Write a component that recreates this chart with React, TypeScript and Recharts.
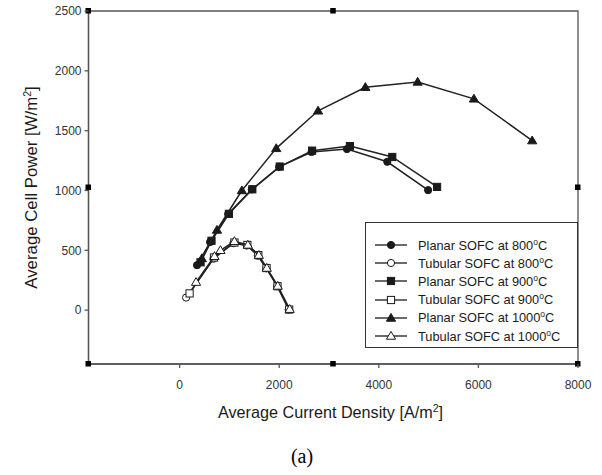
import React from "react";
import {
  ScatterChart,
  Scatter,
  XAxis,
  YAxis,
  Legend,
  ReferenceDot,
  ReferenceArea,
} from "recharts";

// ---- data ----
const planar800X = [350, 612, 975, 1450, 2000, 2650, 3360, 4170, 4990];
const planar800Y = [376, 569, 803, 1009, 1198, 1322, 1346, 1240, 1003];

const tubular800X = [130, 680, 1080, 1350, 1570, 1740, 1960, 2190];
const tubular800Y = [105, 430, 560, 540, 455, 350, 200, 5];

const planar900X = [420, 640, 990, 1460, 2010, 2660, 3420, 4270, 5170];
const planar900Y = [400, 580, 805, 1010, 1200, 1333, 1371, 1280, 1030];

const tubular900X = [200, 690, 1100, 1360, 1580, 1745, 1965, 2200];
const tubular900Y = [140, 440, 565, 545, 460, 352, 200, 5];

const planar1000X = [446, 750, 1250, 1940, 2780, 3730, 4780, 5910, 7080];
const planar1000Y = [432, 670, 1000, 1352, 1666, 1863, 1907, 1766, 1417];

const tubular1000X = [330, 700, 820, 1100, 1370, 1590, 1750, 1970, 2210];
const tubular1000Y = [234, 450, 500, 575, 545, 460, 352, 202, 8];

const xTicks = [0, 2000, 4000, 6000, 8000];
const yTicks = [0, 500, 1000, 1500, 2000, 2500];
const xDomain: [number, number] = [-1830, 8000];
const yDomain: [number, number] = [-450, 2500];

const seriesNames = [
  ["Planar SOFC at 800", "C"],
  ["Tubular SOFC at 800", "C"],
  ["Planar SOFC at 900", "C"],
  ["Tubular SOFC at 900", "C"],
  ["Planar SOFC at 1000", "C"],
  ["Tubular SOFC at 1000", "C"],
];

const zip = (xs: number[], ys: number[]) => xs.map((x, i) => ({ x, y: ys[i] }));

type Kind = "circle" | "square" | "triangle";
const series: { data: { x: number; y: number }[]; kind: Kind; filled: boolean }[] = [
  { data: zip(planar800X, planar800Y), kind: "circle", filled: true },
  { data: zip(tubular800X, tubular800Y), kind: "circle", filled: false },
  { data: zip(planar900X, planar900Y), kind: "square", filled: true },
  { data: zip(tubular900X, tubular900Y), kind: "square", filled: false },
  { data: zip(planar1000X, planar1000Y), kind: "triangle", filled: true },
  { data: zip(tubular1000X, tubular1000Y), kind: "triangle", filled: false },
];

const FONT = "'Liberation Sans', Arial, sans-serif";
const INK = "#1a1a1a";
const AXC = "#555";
const AX = { stroke: AXC, strokeWidth: 1.3 };
const TICK_SIZE = 4;

function Marker({ cx, cy, kind, filled }: { cx: number; cy: number; kind: Kind; filled: boolean }) {
  if (cx == null || cy == null || isNaN(cx) || isNaN(cy)) return null;
  const fill = filled ? INK : "#fff";
  const sw = 1;
  if (kind === "circle") return <circle cx={cx} cy={cy} r={3.6} fill={fill} stroke={INK} strokeWidth={sw} />;
  if (kind === "square")
    return <rect x={cx - 3.6} y={cy - 3.6} width={7.2} height={7.2} fill={fill} stroke={INK} strokeWidth={sw} />;
  const s = 4.6;
  return (
    <polygon
      points={`${cx},${cy - s} ${cx - s},${cy + s * 0.7} ${cx + s},${cy + s * 0.7}`}
      fill={fill}
      stroke={INK}
      strokeWidth={sw}
    />
  );
}

const X_TICK_MARGIN = 12;
function XTick(p: any) {
  const axisY = p.y - TICK_SIZE - X_TICK_MARGIN;
  return (
    <g>
      <line x1={p.x} x2={p.x} y1={axisY} y2={axisY + TICK_SIZE} stroke={AXC} strokeWidth={1.3} />
      <text x={p.x} y={p.y} dy="0.71em" textAnchor="middle" fontSize={12} fill="#333" fontFamily={FONT}>
        {p.payload.value}
      </text>
    </g>
  );
}

const Y_TICK_MARGIN = 3;
function YTick(p: any) {
  const axisX = p.x + TICK_SIZE + Y_TICK_MARGIN;
  return (
    <g>
      <line x1={axisX - TICK_SIZE} x2={axisX} y1={p.y} y2={p.y} stroke={AXC} strokeWidth={1.3} />
      <text x={p.x} y={p.y} dy="0.355em" textAnchor="end" fontSize={12} fill="#333" fontFamily={FONT}>
        {p.payload.value}
      </text>
    </g>
  );
}

function LegendBox() {
  return (
    <div
      style={{
        width: 211,
        height: 111,
        border: "1px solid #333",
        background: "#fff",
        boxSizing: "content-box",
        fontFamily: FONT,
        fontSize: 12.8,
        color: INK,
        paddingTop: 13,
      }}
    >
      {series.map((s, i) => (
        <div key={i} style={{ display: "flex", alignItems: "center", height: 18.2 }}>
          <svg width={52} height={16} style={{ display: "block" }}>
            <line x1={9} x2={41} y1={8} y2={8} stroke={INK} strokeWidth={1.3} />
            <Marker cx={25} cy={8} kind={s.kind} filled={s.filled} />
          </svg>
          <span style={{ whiteSpace: "nowrap" }}>
            {seriesNames[i][0]}
            <sup style={{ fontSize: 8.5, verticalAlign: "5px", lineHeight: 0 }}>o</sup>
            {seriesNames[i][1]}
          </span>
        </div>
      ))}
    </div>
  );
}

const Handle = (p: any) => (
  <rect x={p.cx - 3} y={p.cy - 3} width={5.5} height={5.5} fill="#000" />
);

export default function App() {
  const xMid = (xDomain[0] + xDomain[1]) / 2;
  const yMid = (yDomain[0] + yDomain[1]) / 2;
  return (
    <div style={{ position: "absolute", left: 0, top: 0, width: 602, height: 475, background: "#fff" }}>
      <ScatterChart
        width={602}
        height={475}
        margin={{ top: 11, right: 24, bottom: 51, left: 28.5 }}
        style={{ fontFamily: FONT }}
      >
        <XAxis
          type="number"
          dataKey="x"
          domain={xDomain}
          ticks={xTicks}
          allowDataOverflow
          height={60}
          tickSize={TICK_SIZE}
          tickMargin={X_TICK_MARGIN}
          axisLine={AX}
          tickLine={false}
          tick={<XTick />}
          label={{
            content: () => (
              <g>
                <text x={330.5} y={418} textAnchor="middle" fontFamily={FONT} fontSize={16.2} fill={INK}>
                  Average Current Density [A/m
                  <tspan dy={-6} fontSize={10.5}>2</tspan>
                  <tspan dy={6}>]</tspan>
                </text>
                <text x={302} y={463} textAnchor="middle" fontFamily="'Liberation Serif', 'Times New Roman', serif" fontSize={20} fill="#000">
                  (a)
                </text>
              </g>
            ),
          }}
        />
        <YAxis
          type="number"
          dataKey="y"
          domain={yDomain}
          ticks={yTicks}
          allowDataOverflow
          width={60}
          tickSize={TICK_SIZE}
          tickMargin={Y_TICK_MARGIN}
          axisLine={AX}
          tickLine={false}
          tick={<YTick />}
          label={{
            content: () => (
              <text
                x={37}
                y={187.5}
                transform="rotate(-90 37 187.5)"
                textAnchor="middle"
                fontFamily={FONT}
                fontSize={16.8}
                fill={INK}
              >
                Average Cell Power [W/m
                <tspan dy={-6} fontSize={10.5}>2</tspan>
                <tspan dy={6}>]</tspan>
              </text>
            ),
          }}
        />
        <ReferenceArea
          x1={xDomain[0]}
          x2={xDomain[1]}
          y1={yDomain[0]}
          y2={yDomain[1]}
          ifOverflow="visible"
          fill="none"
          fillOpacity={0}
          stroke={AXC}
          strokeWidth={1.3}
          strokeOpacity={1}
        />
        {series.map((s, i) => (
          <Scatter
            key={i}
            name={seriesNames[i].join("")}
            data={s.data}
            line={{ stroke: "#222", strokeWidth: 1.5 }}
            lineType="joint"
            isAnimationActive={false}
            shape={(p: any) => <Marker cx={p.cx} cy={p.cy} kind={s.kind} filled={s.filled} />}
          />
        ))}
        <ReferenceDot x={xDomain[0]} y={yDomain[1]} ifOverflow="visible" shape={Handle} />
        <ReferenceDot x={xMid} y={yDomain[1]} ifOverflow="visible" shape={Handle} />
        <ReferenceDot x={xDomain[0]} y={yMid} ifOverflow="visible" shape={Handle} />
        <ReferenceDot x={xDomain[1]} y={yMid} ifOverflow="visible" shape={Handle} />
        <ReferenceDot x={xDomain[0]} y={yDomain[0]} ifOverflow="visible" shape={Handle} />
        <ReferenceDot x={xMid} y={yDomain[0]} ifOverflow="visible" shape={Handle} />
        <ReferenceDot x={xDomain[1]} y={yDomain[0]} ifOverflow="visible" shape={Handle} />
        <Legend
          layout="vertical"
          align="center"
          verticalAlign="middle"
          content={() => <LegendBox />}
          wrapperStyle={{ position: "absolute", left: 365, top: 222, width: 213, height: 125, margin: 0 }}
        />
      </ScatterChart>
    </div>
  );
}
